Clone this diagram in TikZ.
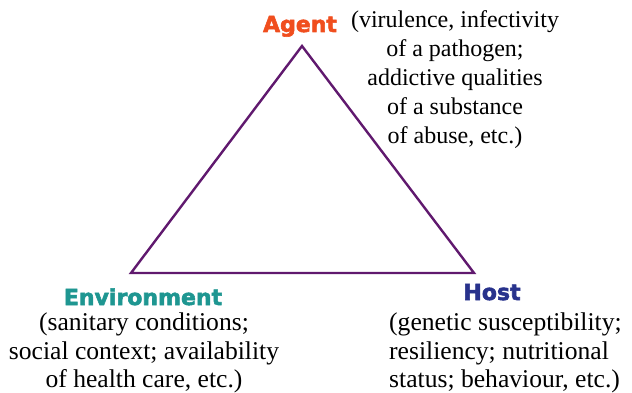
\documentclass[tikz,border=0pt]{standalone}
\usepackage{fontspec}
\setmainfont{Liberation Serif}
\newfontfamily\lblfont[BoldFeatures={FakeBold=2.5}]{DejaVu Sans}
\definecolor{tricol}{RGB}{96,25,110}
\definecolor{agentcol}{RGB}{240,78,30}
\definecolor{envcol}{RGB}{30,150,145}
\definecolor{hostcol}{RGB}{40,50,140}
\tikzset{
  tri/.style={draw=tricol, line width=2.4pt, line join=miter},
  lbl/.style={inner sep=0pt, font=\lblfont\bfseries\fontsize{22}{27}\selectfont},
  desc/.style={inner sep=0pt, font=\fontsize{24}{29}\selectfont},
  descb/.style={inner sep=0pt, font=\fontsize{25.6}{28.5}\selectfont},
}
\begin{document}
\begin{tikzpicture}[x=1pt,y=-1pt]
\useasboundingbox (0,0) rectangle (632,393);
\coordinate (A) at (302,46);
\coordinate (E) at (131,273);
\coordinate (H) at (474,273);
\draw[tri] (A) -- (E) -- (H) -- cycle;
\node[lbl, text=agentcol, anchor=base] (agent) at (300,32) {Agent};
\node[desc, align=center, anchor=north] (agentd) at (455,10)
  {(virulence, infectivity\\of a pathogen;\\addictive qualities\\of a substance\\of abuse, etc.)};
\node[lbl, text=envcol, anchor=base] (env) at (143,305) {Environment};
\node[descb, align=center, anchor=north] (envd) at (144,313)
  {(sanitary conditions;\\social context; availability\\of health care, etc.)};
\node[lbl, text=hostcol, anchor=base] (host) at (492,300) {Host};
\node[descb, align=left, anchor=north west] (hostd) at (389,313)
  {(genetic susceptibility;\\resiliency; nutritional\\status; behaviour, etc.)};
\end{tikzpicture}
\end{document}
